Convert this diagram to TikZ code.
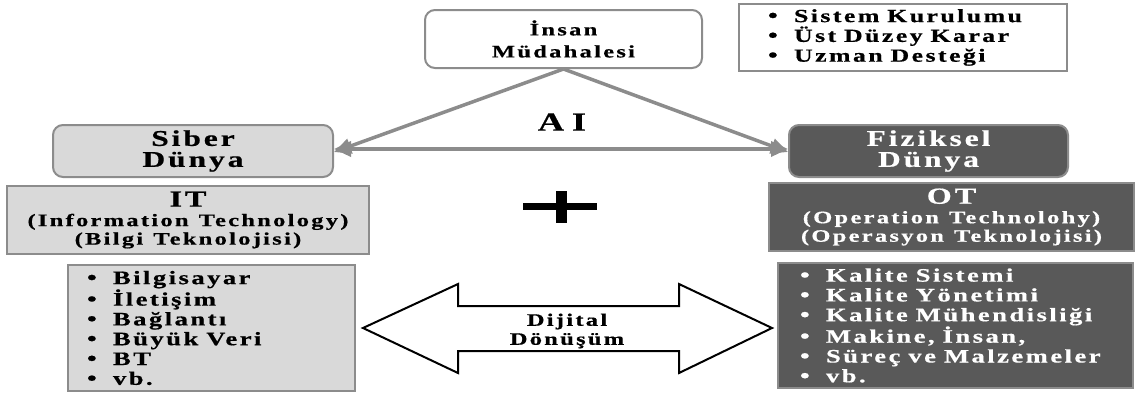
\documentclass[tikz,border=0pt]{standalone}
\usepackage{fontspec}
\setmainfont{Liberation Serif}[FakeStretch=1.4,LetterSpace=13,WordSpace=1.2,BoldFeatures={FakeBold=0.6}]
\usetikzlibrary{arrows.meta}
\definecolor{lightbox}{HTML}{D9D9D9}
\definecolor{darkbox}{HTML}{595959}
\definecolor{edgegray}{HTML}{8C8C8C}
\newcommand{\itm}{\makebox[26pt][l]{\smash{\fontsize{20}{0}\selectfont •}}\spaceskip=0.42em\relax}

\tikzset{
  world/.style={draw=edgegray, line width=2pt, rounded corners=10pt, inner sep=0pt,
    align=center, font=\fontsize{22.5}{21}\selectfont\bfseries},
  techbox/.style={draw=edgegray, line width=2pt, inner sep=0pt, align=center,
    font=\fontsize{17.5}{18.5}\selectfont\bfseries},
  listbox/.style={draw=edgegray, line width=2pt, inner ysep=0pt, align=left,
    font=\fontsize{19}{19.8}\selectfont\bfseries},
  aiarrow/.style={draw=edgegray, line width=3.5pt, -{Triangle[length=17pt,width=15pt]}},
}

\begin{document}
\begin{tikzpicture}[x=1pt,y=-1pt]
\useasboundingbox (0,0) rectangle (1137,394);
\node[world, fill=white, font=\fontsize{17.5}{22}\selectfont\bfseries,
  minimum width=277pt, minimum height=58pt] (0) at (563.5,39) {İnsan\\Müdahalesi};
\node[world, fill=lightbox, minimum width=280pt, minimum height=52pt] (1) at (193,151) {Siber\\Dünya};
\node[world, fill=darkbox, text=white, minimum width=279pt, minimum height=52pt] (2) at (928.5,151) {Fiziksel\\Dünya};
\node[listbox, fill=white, font=\fontsize{18.5}{19.8}\selectfont\bfseries,
  inner xsep=29pt, text width=270pt, minimum height=67pt] (3) at (903,37.5)
  {\itm Sistem Kurulumu\\ \itm Üst Düzey Karar\\ \itm Uzman Desteği};
\node[font=\fontsize{26}{26}\selectfont\bfseries] (4) at (562,122) {\spaceskip=0.3em\relax A I};
\node[techbox, fill=lightbox, minimum width=362pt, minimum height=68pt] (5) at (188,220)
  {{\fontsize{23}{23}\selectfont IT}\\[1pt](Information Technology)\\(Bilgi Teknolojisi)};
\node[techbox, fill=darkbox, text=white, minimum width=365pt, minimum height=68pt] (6) at (951.5,217)
  {{\fontsize{23}{23}\selectfont OT}\\[1pt](Operation Technolohy)\\(Operasyon Teknolojisi)};
\node[listbox, fill=lightbox, inner xsep=19pt, text width=249pt, minimum height=126pt] (7) at (211.5,328)
  {\itm Bilgisayar\\ \itm İletişim\\ \itm Bağlantı\\ \itm Büyük Veri\\ \itm BT\\ \itm vb.};
\node[listbox, fill=darkbox, text=white, inner xsep=22pt, text width=311pt, minimum height=125pt] (8) at (955.5,325.5)
  {\itm Kalite Sistemi\\ \itm Kalite Yönetimi\\ \itm Kalite Mühendisliği\\ \itm Makine, İnsan,\\ \itm Süreç ve Malzemeler\\ \itm vb.};
% AI arrows
\draw[aiarrow] (0.south) -- ([yshift=-1pt]1.east);
\draw[aiarrow] (0.south) -- ([yshift=-1pt]2.west);
\draw[aiarrow, {Triangle[length=17pt,width=15pt]}-{Triangle[length=17pt,width=15pt]}]
  ([yshift=2pt]1.east) -- ([yshift=2pt]2.west);
% plus
\fill (523,203) rectangle (597,210);
\fill (556,191) rectangle (567,223);
% dijital donusum
\draw[line width=2pt, fill=white, line join=miter] ([xshift=7pt]7.east) -- ++(95,-44) -- ++(0,22) -- ++(221,0)
  -- ++(0,-22) -- ++(93,44) -- ++(-93,45) -- ++(0,-22) -- ++(-221,0) -- ++(0,22) -- cycle;
\node[align=center, font=\fontsize{17.5}{19}\selectfont\bfseries] (9) at (567,331) {Dijital\\Dönüşüm};
\end{tikzpicture}
\end{document}
